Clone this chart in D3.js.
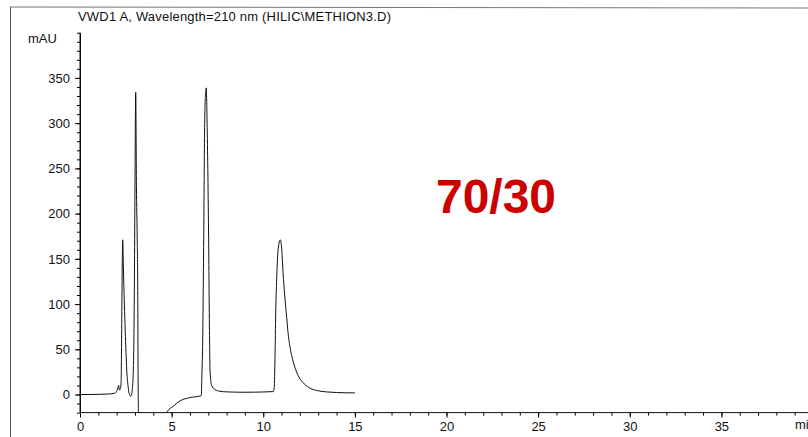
<!DOCTYPE html>
<html>
<head>
<meta charset="utf-8">
<script src="https://cdn.jsdelivr.net/npm/d3@7"></script>
<style>
  html, body { margin: 0; padding: 0; background: #fff; }
  svg { display: block; font-family: Arial, "Liberation Sans", sans-serif; }
</style>
</head>
<body>
<svg id="chart" width="808" height="437"></svg>
<script>
// retention time (min) and absorbance (mAU)
const times = [
  0, 0.5, 1.0, 1.5, 1.8, 1.95, 2.05, 2.11, 2.15, 2.2, 2.24, 2.27, 2.29, 2.33,
  2.37, 2.42, 2.47, 2.55, 2.63, 2.7, 2.78, 2.85, 2.91, 2.96, 3.0, 3.04, 3.08,
  3.12, 3.15, 3.17, 3.19, 3.33, 3.45, 4.0, 4.6, 4.76, 5.09, 5.46, 6.0, 6.58,
  6.62, 6.65, 6.69, 6.75, 6.8, 6.85, 6.89, 6.94, 7.02, 7.07, 7.1, 7.18, 7.36,
  7.64, 8.0, 8.5, 9.0, 9.5, 10.0, 10.55, 10.6, 10.64, 10.68, 10.74, 10.82,
  10.93, 11.0, 11.08, 11.17, 11.28, 11.36, 11.5, 11.64, 11.9, 12.18, 12.5,
  12.91, 13.5, 14.0, 14.5, 15.0
];
const mau = [
  0, 0, 0.2, 0.5, 1, 2, 6, 10, 5, 6, 12, 60, 110, 171,
  140, 100, 70, 27, 8, 0, -2, 5, 27, 100, 230, 334, 230,
  175, 120, 20, -20, -20, -40, -50, -30, -19, -13, -7, -3.4, -1.5,
  -1, 20, 53, 171, 295, 332, 339, 295, 171, 60, 25, 10.3, 5.5,
  3.6, 2.9, 2.6, 2.5, 2.6, 2.8, 3.2, 8, 40, 90, 132, 162,
  171, 163, 135, 110, 85, 67, 48, 36, 21, 13, 7.5,
  4.5, 2.8, 2.2, 1.9, 1.8
];

const yMajorTicks = [0, 50, 100, 150, 200, 250, 300, 350];
const xMajorTicks = [0, 5, 10, 15, 20, 25, 30, 35];

const svg = d3.select('#chart');

const x = d3.scaleLinear().domain([0, 40]).range([80, 813]);
const y = d3.scaleLinear().domain([-20, 400]).range([412.6, 32.7]);

// page frame
svg.append('line')
  .attr('x1', 10).attr('y1', 7).attr('x2', 808).attr('y2', 8)
  .attr('stroke', '#777').attr('stroke-width', 1);
svg.append('line')
  .attr('x1', 10.5).attr('y1', 7).attr('x2', 10.5).attr('y2', 437)
  .attr('stroke', '#555').attr('stroke-width', 1);

// title
svg.append('text')
  .attr('x', 78).attr('y', 21)
  .attr('font-size', 13)
  .attr('textLength', 313)
  .attr('fill', '#111')
  .text('VWD1 A, Wavelength=210 nm (HILIC\\METHION3.D)');

// y axis: minor + major ticks
svg.append('g')
  .attr('transform', 'translate(80,0)')
  .call(d3.axisLeft(y).tickValues(d3.range(-20, 401, 10)).tickSize(3).tickSizeOuter(0).tickFormat(''))
  .call(g => g.select('.domain').remove());
svg.append('g')
  .attr('transform', 'translate(80,0)')
  .call(d3.axisLeft(y).tickValues(yMajorTicks).tickSize(5).tickSizeOuter(0).tickPadding(5))
  .call(g => g.selectAll('text').attr('font-size', 13).attr('fill', '#111').attr('font-family', 'Arial, "Liberation Sans", sans-serif'));
svg.append('line')
  .attr('x1', 80).attr('x2', 80).attr('y1', y(400)).attr('y2', y(-20))
  .attr('stroke', '#111');

svg.append('text')
  .attr('x', 28).attr('y', 43)
  .attr('font-size', 13).attr('fill', '#111')
  .text('mAU');

// x axis: minor + major ticks
svg.append('g')
  .attr('transform', 'translate(0,' + y(-20) + ')')
  .call(d3.axisBottom(x).tickValues(d3.range(0, 41, 1)).tickSize(3).tickSizeOuter(0).tickFormat(''))
  .call(g => g.select('.domain').remove());
svg.append('g')
  .attr('transform', 'translate(0,' + y(-20) + ')')
  .call(d3.axisBottom(x).tickValues(xMajorTicks).tickSize(5).tickSizeOuter(0).tickPadding(4))
  .call(g => g.select('.domain').remove())
  .call(g => g.selectAll('text').attr('font-size', 13).attr('fill', '#111').attr('font-family', 'Arial, "Liberation Sans", sans-serif'));
svg.append('line')
  .attr('x1', 80).attr('x2', 808).attr('y1', y(-20)).attr('y2', y(-20))
  .attr('stroke', '#111');

// axis unit, cut by the page edge as in the scan
svg.append('text')
  .attr('x', 795).attr('y', 429)
  .attr('font-size', 13).attr('fill', '#111')
  .text('min');

// trace
svg.append('clipPath').attr('id', 'plot-clip')
  .append('rect')
  .attr('x', 80).attr('y', y(400))
  .attr('width', 733).attr('height', y(-20) - y(400) + 0.5);

const points = times.map((t, i) => [t, mau[i]]);
const line = d3.line()
  .x(d => x(d[0]))
  .y(d => y(d[1]))
  .curve(d3.curveMonotoneX);

svg.append('path')
  .datum(points)
  .attr('clip-path', 'url(#plot-clip)')
  .attr('fill', 'none')
  .attr('stroke', '#111')
  .attr('stroke-width', 1)
  .attr('d', line);

// annotation
svg.append('text')
  .attr('x', 496).attr('y', 213)
  .attr('text-anchor', 'middle')
  .attr('font-size', 48)
  .attr('font-weight', 'bold')
  .attr('fill', '#cc0000')
  .text('70/30');
</script>
</body>
</html>
